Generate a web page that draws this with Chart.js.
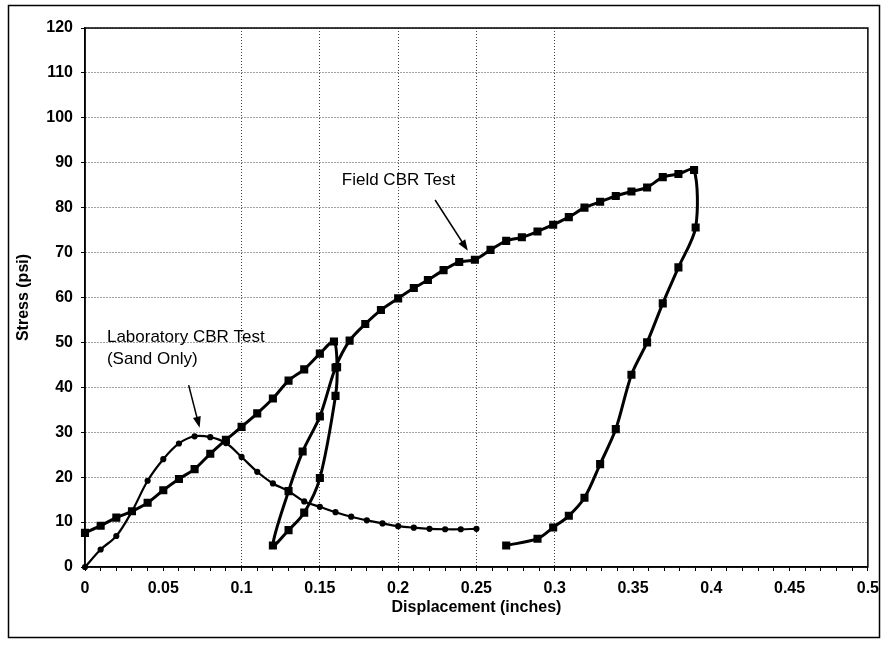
<!DOCTYPE html>
<html>
<head>
<meta charset="utf-8">
<script src="https://cdn.jsdelivr.net/npm/chart.js@4/dist/chart.umd.min.js"></script>
<style>
body{margin:0;background:#fff;}
#grafico{display:block;}
</style>
</head>
<body>
<canvas id="grafico" width="887" height="646"></canvas>
<script>
// Field CBR Test (square markers) - load, rebound, reload, rebound
const campoX = [0, 0.01, 0.02, 0.03, 0.04, 0.05, 0.06, 0.07, 0.08, 0.09, 0.10, 0.11, 0.12, 0.13, 0.14, 0.15, 0.159,
0.161, 0.160, 0.15, 0.14, 0.13, 0.12,
0.13, 0.139, 0.15, 0.16, 0.169, 0.179, 0.189, 0.20, 0.21, 0.219, 0.229, 0.239, 0.249, 0.259, 0.269, 0.279, 0.289, 0.299,
0.309, 0.319, 0.329, 0.339, 0.349, 0.359, 0.369, 0.379, 0.389,
0.39, 0.379, 0.369, 0.359, 0.349, 0.339, 0.329, 0.319, 0.309, 0.299, 0.289, 0.269];
const campoY = [7.6, 9.2, 11.0, 12.4, 14.3, 17.1, 19.6, 21.8, 25.2, 28.3, 31.2, 34.2, 37.5, 41.5, 44.0, 47.5, 50.2,
44.5, 38.1, 19.8, 12.1, 8.2, 4.8,
16.9, 25.7, 33.5, 44.4, 50.4, 54.1, 57.2, 59.8, 62.1, 63.9, 66.1, 67.9, 68.4, 70.6, 72.6, 73.4, 74.7, 76.2,
77.9, 80.0, 81.3, 82.6, 83.6, 84.5, 86.8, 87.5, 88.4,
75.6, 66.7, 58.7, 50.0, 42.8, 30.7, 22.9, 15.4, 11.4, 8.8, 6.3, 4.8];

// Laboratory CBR Test (Sand Only) - round markers
const labX = [0, 0.01, 0.02, 0.03, 0.04, 0.05, 0.06, 0.07, 0.08, 0.09, 0.10, 0.11, 0.12, 0.13, 0.14, 0.15, 0.16,
0.17, 0.18, 0.19, 0.20, 0.21, 0.22, 0.23, 0.24, 0.25];
const labY = [0, 3.9, 6.9, 12.4, 19.2, 24.0, 27.5, 29.1, 28.9, 27.6, 24.5, 21.2, 18.6, 16.9, 14.6, 13.4, 12.2,
11.2, 10.4, 9.7, 9.1, 8.75, 8.5, 8.4, 8.4, 8.5];

// labels written on the plot (data coordinates)
const notaTextos = ["Field CBR Test", "Laboratory CBR Test", "(Sand Only)"];
const notaX = [0.164, 0.014, 0.014];
const notaY = [86.0, 51.2, 46.3];

// arrows: start -> tip
const setaX0 = [0.2236, 0.0662];
const setaY0 = [81.7, 40.5];
const setaX1 = [0.2445, 0.0732];
const setaY1 = [70.4, 31.0];

const gradeX = [10, 15, 20, 25, 30]; // vertical gridlines, in hundredths
const fonte = '"Liberation Sans", Arial, sans-serif';

function pontos(xs, ys){
return xs.map((x, i) => ({ x: x, y: ys[i] }));
}

function desenharSeta(ctx, x0, y0, x1, y1){
const ang = Math.atan2(y1 - y0, x1 - x0);
ctx.beginPath();
ctx.moveTo(x0, y0);
ctx.lineTo(x1 - 6 * Math.cos(ang), y1 - 6 * Math.sin(ang));
ctx.stroke();
ctx.beginPath();
ctx.moveTo(x1, y1);
ctx.lineTo(x1 - 11 * Math.cos(ang) + 4 * Math.sin(ang), y1 - 11 * Math.sin(ang) - 4 * Math.cos(ang));
ctx.lineTo(x1 - 11 * Math.cos(ang) - 4 * Math.sin(ang), y1 - 11 * Math.sin(ang) + 4 * Math.cos(ang));
ctx.closePath();
ctx.fill();
}

const moldura = {
id: "moldura",
afterDraw(chart){
const ctx = chart.ctx;
const a = chart.chartArea;
const sx = chart.scales.x;
const sy = chart.scales.y;
ctx.save();
ctx.strokeStyle = "#000";
ctx.fillStyle = "#000";
ctx.lineWidth = 1.5;
ctx.strokeRect(a.left, a.top, a.right - a.left, a.bottom - a.top);
ctx.strokeRect(8.5, 5.5, 871, 632);

ctx.font = "17px " + fonte;
ctx.textBaseline = "middle";
ctx.textAlign = "left";
notaTextos.forEach((t, i) => {
ctx.fillText(t, sx.getPixelForValue(notaX[i]), sy.getPixelForValue(notaY[i]));
});

ctx.lineWidth = 1.5;
setaX0.forEach((v, i) => {
desenharSeta(ctx,
sx.getPixelForValue(setaX0[i]), sy.getPixelForValue(setaY0[i]),
sx.getPixelForValue(setaX1[i]), sy.getPixelForValue(setaY1[i]));
});
ctx.restore();
}
};

new Chart(document.getElementById("grafico"), {
type: "scatter",
data: {
datasets: [
{
label: "Laboratory CBR Test (Sand Only)",
data: pontos(labX, labY),
showLine: true,
borderColor: "#000",
backgroundColor: "#000",
borderWidth: 2.2,
pointStyle: "circle",
pointRadius: 2,
tension: 0.35,
clip: false
},
{
label: "Field CBR Test",
data: pontos(campoX, campoY),
showLine: true,
borderColor: "#000",
backgroundColor: "#000",
borderWidth: 3,
pointStyle: "rect",
pointRadius: 3.6,
tension: 0.3,
clip: false
}
]
},
options: {
responsive: false,
animation: false,
layout: { padding: { left: 10, right: 18, top: 28, bottom: 25 } },
plugins: {
legend: { display: false },
tooltip: { enabled: false }
},
scales: {
x: {
type: "linear",
min: 0,
max: 0.5,
afterFit(scale){ scale.height = 54; },
ticks: {
stepSize: 0.01,
autoSkip: false,
maxRotation: 0,
minRotation: 0,
padding: 8,
color: "#000",
font: { family: fonte, size: 16, weight: "bold" },
callback: (v) => {
const c = Math.round(v * 100);
return c % 5 === 0 ? String(c / 100) : "";
}
},
grid: {
color: (c) => gradeX.includes(Math.round(c.tick.value * 100)) ? "#444" : "rgba(0,0,0,0)",
lineWidth: 1,
tickColor: "#000",
tickLength: 4
},
border: { display: true, color: "#000", width: 1.5, dash: [1, 2] },
title: {
display: true,
text: "Displacement (inches)",
color: "#000",
font: { family: fonte, size: 16, weight: "bold" }
}
},
y: {
min: 0,
max: 120,
afterFit(scale){ scale.width = 75; },
ticks: {
stepSize: 10,
padding: 8,
color: "#000",
font: { family: fonte, size: 16, weight: "bold" }
},
grid: {
color: "#444",
lineWidth: 1,
tickColor: "#000",
tickLength: 4
},
border: { display: true, color: "#000", width: 1.5, dash: [1, 2] },
title: {
display: true,
text: "Stress (psi)",
color: "#000",
padding: { top: 4, bottom: 4 },
font: { family: fonte, size: 16, weight: "bold" }
}
}
}
},
plugins: [moldura]
});
</script>
</body>
</html>
